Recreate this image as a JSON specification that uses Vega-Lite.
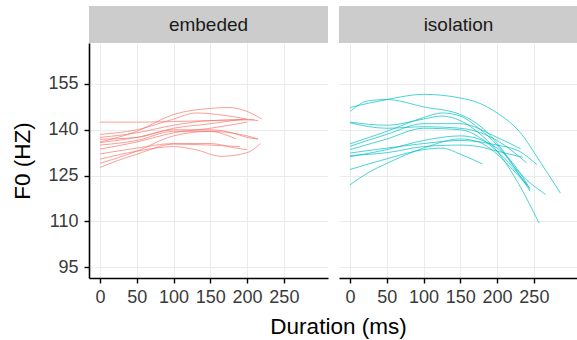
{
  "$schema": "https://vega.github.io/schema/vega-lite/v6.json",
  "padding": {"left": 11, "top": 6, "right": 0, "bottom": 0},
  "spacing": 11,
  "title": {"text": "Duration (ms)", "orient": "bottom", "anchor": "middle", "dx": 44, "fontSize": 22.5, "fontWeight": "normal", "color": "#000000", "offset": 10},
  "config": {
    "font": "Liberation Sans",
    "view": {"stroke": null},
    "axis": {
      "gridColor": "#ebebeb",
      "gridWidth": 1,
      "domainColor": "#000000",
      "domainWidth": 1.6,
      "tickColor": "#000000",
      "tickWidth": 1.4,
      "tickSize": 5,
      "labelFontSize": 18,
      "labelColor": "#3a3a3a",
      "titleFontSize": 22.5,
      "titleFontWeight": "normal",
      "titleColor": "#000000"
    }
  },
  "data": {
    "values": [
      {"panel":"embeded","id":"e1","t":0,"f0":136},{"panel":"embeded","id":"e1","t":50,"f0":139.5},{"panel":"embeded","id":"e1","t":100,"f0":145},{"panel":"embeded","id":"e1","t":150,"f0":147},{"panel":"embeded","id":"e1","t":175,"f0":147.3},{"panel":"embeded","id":"e1","t":200,"f0":146},{"panel":"embeded","id":"e1","t":220,"f0":143.5},
      {"panel":"embeded","id":"e2","t":0,"f0":142.5},{"panel":"embeded","id":"e2","t":50,"f0":142.5},{"panel":"embeded","id":"e2","t":100,"f0":142.7},{"panel":"embeded","id":"e2","t":150,"f0":143},{"panel":"embeded","id":"e2","t":200,"f0":143.3},{"panel":"embeded","id":"e2","t":210,"f0":143.3},
      {"panel":"embeded","id":"e3","t":0,"f0":138.5},{"panel":"embeded","id":"e3","t":50,"f0":140},{"panel":"embeded","id":"e3","t":100,"f0":143.5},{"panel":"embeded","id":"e3","t":130,"f0":145.5},{"panel":"embeded","id":"e3","t":160,"f0":145},{"panel":"embeded","id":"e3","t":200,"f0":143.5},
      {"panel":"embeded","id":"e4","t":0,"f0":137.5},{"panel":"embeded","id":"e4","t":50,"f0":139},{"panel":"embeded","id":"e4","t":100,"f0":141.5},{"panel":"embeded","id":"e4","t":150,"f0":143},{"panel":"embeded","id":"e4","t":200,"f0":143.3},{"panel":"embeded","id":"e4","t":215,"f0":143},
      {"panel":"embeded","id":"e5","t":0,"f0":136.9},{"panel":"embeded","id":"e5","t":50,"f0":137.5},{"panel":"embeded","id":"e5","t":100,"f0":140.5},{"panel":"embeded","id":"e5","t":150,"f0":142},{"panel":"embeded","id":"e5","t":195,"f0":143.5},
      {"panel":"embeded","id":"e6","t":0,"f0":135.8},{"panel":"embeded","id":"e6","t":50,"f0":137.5},{"panel":"embeded","id":"e6","t":100,"f0":140},{"panel":"embeded","id":"e6","t":150,"f0":140},{"panel":"embeded","id":"e6","t":180,"f0":139},{"panel":"embeded","id":"e6","t":200,"f0":137.5},{"panel":"embeded","id":"e6","t":215,"f0":137},
      {"panel":"embeded","id":"e7","t":0,"f0":135},{"panel":"embeded","id":"e7","t":50,"f0":136.5},{"panel":"embeded","id":"e7","t":100,"f0":139.5},{"panel":"embeded","id":"e7","t":150,"f0":139.5},{"panel":"embeded","id":"e7","t":175,"f0":138},{"panel":"embeded","id":"e7","t":185,"f0":137},
      {"panel":"embeded","id":"e8","t":0,"f0":133.7},{"panel":"embeded","id":"e8","t":50,"f0":136},{"panel":"embeded","id":"e8","t":100,"f0":139},{"panel":"embeded","id":"e8","t":150,"f0":140.5},{"panel":"embeded","id":"e8","t":200,"f0":142.5},
      {"panel":"embeded","id":"e9","t":0,"f0":132.1},{"panel":"embeded","id":"e9","t":50,"f0":134},{"panel":"embeded","id":"e9","t":100,"f0":135.5},{"panel":"embeded","id":"e9","t":150,"f0":135.5},{"panel":"embeded","id":"e9","t":185,"f0":134},{"panel":"embeded","id":"e9","t":200,"f0":133.5},
      {"panel":"embeded","id":"e10","t":0,"f0":130.4},{"panel":"embeded","id":"e10","t":50,"f0":133},{"panel":"embeded","id":"e10","t":100,"f0":134.5},{"panel":"embeded","id":"e10","t":130,"f0":133.5},{"panel":"embeded","id":"e10","t":165,"f0":131.3},{"panel":"embeded","id":"e10","t":200,"f0":132.5},{"panel":"embeded","id":"e10","t":218,"f0":135.5},
      {"panel":"embeded","id":"e11","t":0,"f0":129},{"panel":"embeded","id":"e11","t":50,"f0":133},{"panel":"embeded","id":"e11","t":100,"f0":138},{"panel":"embeded","id":"e11","t":150,"f0":139.5},{"panel":"embeded","id":"e11","t":200,"f0":138},{"panel":"embeded","id":"e11","t":215,"f0":137},
      {"panel":"embeded","id":"e12","t":0,"f0":127.7},{"panel":"embeded","id":"e12","t":25,"f0":130},{"panel":"embeded","id":"e12","t":50,"f0":132},{"panel":"embeded","id":"e12","t":100,"f0":135.3},{"panel":"embeded","id":"e12","t":150,"f0":135},{"panel":"embeded","id":"e12","t":190,"f0":134.5},
      {"panel":"isolation","id":"i1","t":0,"f0":147.3},{"panel":"isolation","id":"i1","t":50,"f0":149.9},{"panel":"isolation","id":"i1","t":100,"f0":151.6},{"panel":"isolation","id":"i1","t":150,"f0":150.4},{"panel":"isolation","id":"i1","t":175,"f0":148.8},{"panel":"isolation","id":"i1","t":200,"f0":145.5},{"panel":"isolation","id":"i1","t":230,"f0":139.5},{"panel":"isolation","id":"i1","t":260,"f0":129},{"panel":"isolation","id":"i1","t":286,"f0":119.3},
      {"panel":"isolation","id":"i2","t":0,"f0":146},{"panel":"isolation","id":"i2","t":25,"f0":149.5},{"panel":"isolation","id":"i2","t":50,"f0":149.9},{"panel":"isolation","id":"i2","t":100,"f0":147.5},{"panel":"isolation","id":"i2","t":150,"f0":145},{"panel":"isolation","id":"i2","t":180,"f0":140.6},{"panel":"isolation","id":"i2","t":207,"f0":133.5},{"panel":"isolation","id":"i2","t":227,"f0":126.4},{"panel":"isolation","id":"i2","t":245,"f0":119.9},
      {"panel":"isolation","id":"i3","t":0,"f0":142.5},{"panel":"isolation","id":"i3","t":50,"f0":141.5},{"panel":"isolation","id":"i3","t":100,"f0":143.5},{"panel":"isolation","id":"i3","t":125,"f0":144.5},{"panel":"isolation","id":"i3","t":150,"f0":143},{"panel":"isolation","id":"i3","t":175,"f0":139},{"panel":"isolation","id":"i3","t":200,"f0":133},{"panel":"isolation","id":"i3","t":230,"f0":122},{"panel":"isolation","id":"i3","t":257,"f0":109.5},
      {"panel":"isolation","id":"i4","t":0,"f0":142.3},{"panel":"isolation","id":"i4","t":50,"f0":140.5},{"panel":"isolation","id":"i4","t":100,"f0":141},{"panel":"isolation","id":"i4","t":150,"f0":140.5},{"panel":"isolation","id":"i4","t":200,"f0":136.5},{"panel":"isolation","id":"i4","t":240,"f0":129.2},
      {"panel":"isolation","id":"i5","t":0,"f0":135.4},{"panel":"isolation","id":"i5","t":50,"f0":139.5},{"panel":"isolation","id":"i5","t":100,"f0":144},{"panel":"isolation","id":"i5","t":125,"f0":145.5},{"panel":"isolation","id":"i5","t":150,"f0":144.5},{"panel":"isolation","id":"i5","t":175,"f0":140.5},{"panel":"isolation","id":"i5","t":200,"f0":135},{"panel":"isolation","id":"i5","t":230,"f0":126},{"panel":"isolation","id":"i5","t":266,"f0":118.8},
      {"panel":"isolation","id":"i6","t":0,"f0":134.6},{"panel":"isolation","id":"i6","t":50,"f0":138.5},{"panel":"isolation","id":"i6","t":100,"f0":142},{"panel":"isolation","id":"i6","t":150,"f0":142},{"panel":"isolation","id":"i6","t":200,"f0":137.5},{"panel":"isolation","id":"i6","t":232,"f0":133.8},
      {"panel":"isolation","id":"i7","t":0,"f0":133.5},{"panel":"isolation","id":"i7","t":50,"f0":137},{"panel":"isolation","id":"i7","t":100,"f0":140.5},{"panel":"isolation","id":"i7","t":150,"f0":140},{"panel":"isolation","id":"i7","t":200,"f0":133},{"panel":"isolation","id":"i7","t":241,"f0":122},
      {"panel":"isolation","id":"i8","t":0,"f0":132.4},{"panel":"isolation","id":"i8","t":50,"f0":134},{"panel":"isolation","id":"i8","t":100,"f0":135.5},{"panel":"isolation","id":"i8","t":150,"f0":136.5},{"panel":"isolation","id":"i8","t":200,"f0":135},{"panel":"isolation","id":"i8","t":230,"f0":133},{"panel":"isolation","id":"i8","t":254,"f0":128.6},
      {"panel":"isolation","id":"i9","t":0,"f0":131.6},{"panel":"isolation","id":"i9","t":50,"f0":132.5},{"panel":"isolation","id":"i9","t":100,"f0":134.5},{"panel":"isolation","id":"i9","t":150,"f0":135},{"panel":"isolation","id":"i9","t":175,"f0":134.5},{"panel":"isolation","id":"i9","t":200,"f0":133},{"panel":"isolation","id":"i9","t":235,"f0":131},
      {"panel":"isolation","id":"i10","t":0,"f0":131.2},{"panel":"isolation","id":"i10","t":50,"f0":133.5},{"panel":"isolation","id":"i10","t":100,"f0":136.5},{"panel":"isolation","id":"i10","t":150,"f0":138},{"panel":"isolation","id":"i10","t":200,"f0":134},{"panel":"isolation","id":"i10","t":225,"f0":128},{"panel":"isolation","id":"i10","t":245,"f0":120.5},
      {"panel":"isolation","id":"i11","t":0,"f0":127},{"panel":"isolation","id":"i11","t":50,"f0":130.5},{"panel":"isolation","id":"i11","t":100,"f0":133.5},{"panel":"isolation","id":"i11","t":125,"f0":134},{"panel":"isolation","id":"i11","t":150,"f0":132},{"panel":"isolation","id":"i11","t":180,"f0":128.8},
      {"panel":"isolation","id":"i12","t":0,"f0":122},{"panel":"isolation","id":"i12","t":25,"f0":126},{"panel":"isolation","id":"i12","t":50,"f0":129},{"panel":"isolation","id":"i12","t":100,"f0":134},{"panel":"isolation","id":"i12","t":150,"f0":137},{"panel":"isolation","id":"i12","t":175,"f0":136},{"panel":"isolation","id":"i12","t":200,"f0":132},{"panel":"isolation","id":"i12","t":225,"f0":126},{"panel":"isolation","id":"i12","t":244,"f0":121}
    ]
  },
  "hconcat": [
    {
      "vconcat": [
        {
          "width": 239, "height": 37,
          "view": {"fill": "#cccccc", "stroke": null},
          "data": {"values": [{"p": "embeded"}]},
          "mark": {"type": "text", "fontSize": 19, "color": "#1a1a1a"},
          "encoding": {"text": {"field": "p"}}
        },
        {
          "width": 239, "height": 235,
          "transform": [{"filter": "datum.panel === 'embeded'"}],
          "mark": {"type": "line", "interpolate": "monotone", "strokeWidth": 1, "opacity": 0.7, "color": "#F8766D"},
          "encoding": {
            "x": {"field": "t", "type": "quantitative", "scale": {"domain": [-15, 310], "nice": false, "zero": false},
                  "axis": {"values": [0, 50, 100, 150, 200, 250], "title": null, "labelPadding": 5}},
            "y": {"field": "f0", "type": "quantitative", "scale": {"domain": [91.5, 168.4], "nice": false, "zero": false},
                  "axis": {"values": [95, 110, 125, 140, 155], "title": "F0 (HZ)", "minExtent": 45, "maxExtent": 45, "titlePadding": 10, "labelPadding": 6}},
            "detail": {"field": "id"}
          }
        }
      ],
      "spacing": 0,
      "bounds": "flush"
    },
    {
      "vconcat": [
        {
          "width": 239, "height": 37,
          "view": {"fill": "#cccccc", "stroke": null},
          "data": {"values": [{"p": "isolation"}]},
          "mark": {"type": "text", "fontSize": 19, "color": "#1a1a1a"},
          "encoding": {"text": {"field": "p"}}
        },
        {
          "width": 239, "height": 235,
          "transform": [{"filter": "datum.panel === 'isolation'"}],
          "mark": {"type": "line", "interpolate": "monotone", "strokeWidth": 1, "opacity": 0.7, "color": "#00BFC4"},
          "encoding": {
            "x": {"field": "t", "type": "quantitative", "scale": {"domain": [-15, 310], "nice": false, "zero": false},
                  "axis": {"values": [0, 50, 100, 150, 200, 250], "title": null, "labelPadding": 5}},
            "y": {"field": "f0", "type": "quantitative", "scale": {"domain": [91.5, 168.4], "nice": false, "zero": false},
                  "axis": {"values": [95, 110, 125, 140, 155], "title": null, "labels": false, "ticks": false, "domain": false}},
            "detail": {"field": "id"}
          }
        }
      ],
      "spacing": 0,
      "bounds": "flush"
    }
  ]
}
